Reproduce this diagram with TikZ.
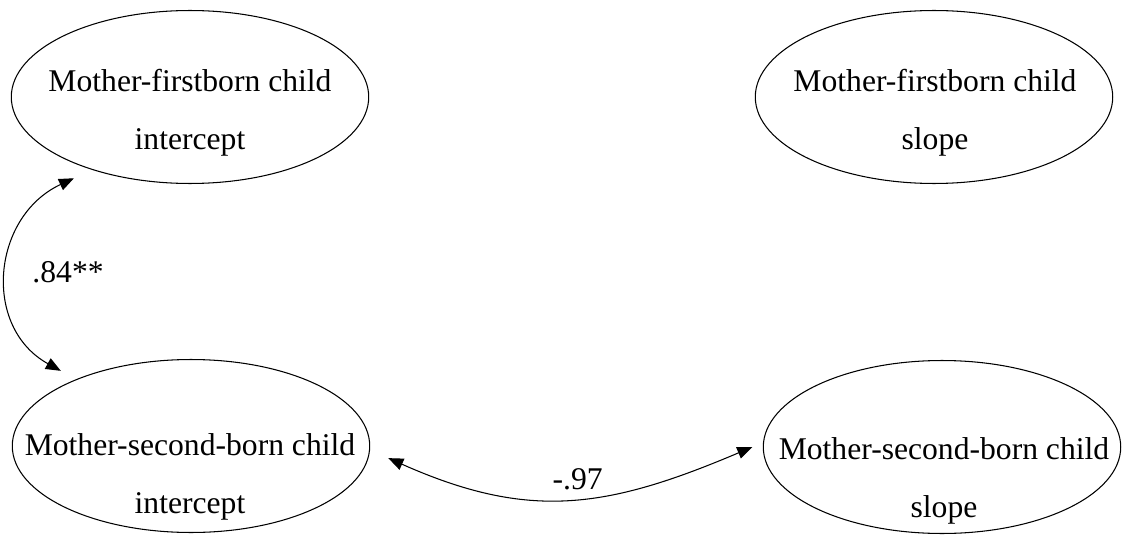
\documentclass[tikz,border=0pt]{standalone}
\usepackage{fontspec}
\setmainfont{Liberation Serif}
\usetikzlibrary{shapes.geometric, arrows.meta}

\begin{document}
\begin{tikzpicture}[x=0.02cm, y=0.02cm,
		latent/.style={ellipse, draw, line width=0.6pt, inner sep=0pt, outer sep=0.3cm, minimum width=7.15cm, minimum height=3.46cm},
		caption/.style={align=center, inner sep=0pt, font=\fontsize{18}{33}\selectfont},
		cov/.style={{Triangle[length=0.3cm,width=0.24cm]}-{Triangle[length=0.3cm,width=0.24cm]}, line width=0.6pt},
		coef/.style={inner sep=0pt, font=\fontsize{18}{22}\selectfont}]
			\useasboundingbox (0,0) rectangle (1126,535);
			
			% Define latent factors
			\node[latent] (fbi) at (190,438) {};      % Firstborn intercept
			\node[latent] (fbs) at (934,438) {};      % Firstborn slope
			\node[latent] (sbi) at (191,89) {};       % Second-born intercept
			\node[latent, outer sep=0.22cm] (sbs) at (942,88) {};       % Second-born slope
			
			% Factor names
			\node[caption] (fbitext) at (190,422) {Mother-firstborn child\\intercept};
			\node[caption] (fbstext) at (935,422) {Mother-firstborn child\\slope};
			\node[caption] (sbitext) at (190,58) {Mother-second-born child\\intercept};
			\node[caption] (sbstext) at (944,54) {Mother-second-born child\\slope};
			
			% Covariances
			\draw[cov] (sbi.150) to[out=151, in=205, looseness=1.2] node[coef, midway, right=0.5cm] {.84**} (fbi.215);
			\draw[cov, shorten <=0.1cm] (sbi.-3) to[out=-24, in=203, looseness=1.1] node[coef, midway, above=0.18cm, xshift=0.2cm] {-.97} (sbs.180);
		\end{tikzpicture}
\end{document}
